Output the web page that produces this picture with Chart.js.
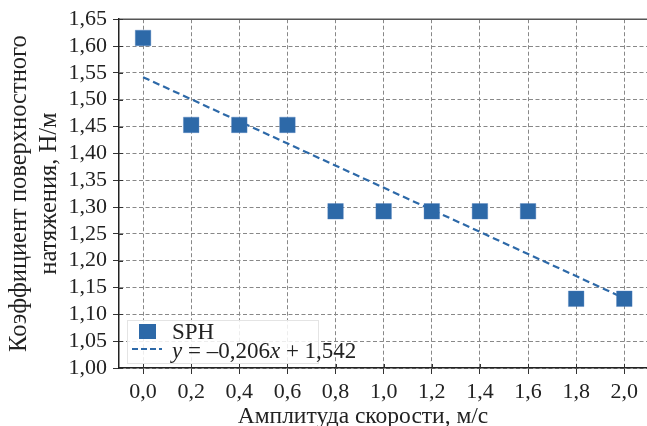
<!DOCTYPE html>
<html>
<head>
<meta charset="utf-8">
<script src="https://cdn.jsdelivr.net/npm/chart.js@4"></script>
<style>
  html, body { margin: 0; padding: 0; background: #fff; overflow: hidden; }
  #wrap { width: 659px; height: 426px; position: relative; }
  canvas { display: block; }
</style>
</head>
<body>
<div id="wrap"><canvas id="chartSph"></canvas></div>
<script>
const speedX = [0.0, 0.2, 0.4, 0.6, 0.8, 1.0, 1.2, 1.4, 1.6, 1.8, 2.0];
const tensionY = [1.615, 1.453, 1.453, 1.453, 1.292, 1.292, 1.292, 1.292, 1.292, 1.129, 1.129];
const trendX = [0.0, 2.0];
const trendY = [1.542, 1.130];
const xTicks = [0.0, 0.2, 0.4, 0.6, 0.8, 1.0, 1.2, 1.4, 1.6, 1.8, 2.0];
const yTicks = [1.00, 1.05, 1.10, 1.15, 1.20, 1.25, 1.30, 1.35, 1.40, 1.45, 1.50, 1.55, 1.60, 1.65];
const xTitle = 'Амплитуда скорости, м/с';
const yTitle = ['Коэффициент поверхностного', 'натяжения, Н/м'];

const blue = '#2d69a8';
const ink = '#222';
const serif = "'Liberation Serif', 'Times New Roman', serif";
const comma = (v, d) => v.toFixed(d).replace('.', ',');

// frame, inner tick marks, legend and axis titles
const extras = {
    id: 'extras',
    afterDraw(chart) {
        const c = chart.ctx;
        const a = chart.chartArea;
        const sx = chart.scales.x, sy = chart.scales.y;
        c.save();
        c.strokeStyle = '#555';
        c.lineWidth = 1.5;
        c.beginPath();
        c.moveTo(a.left, a.top);
        c.lineTo(a.right, a.top);
        c.stroke();

        c.strokeStyle = '#333';
        c.lineWidth = 1;
        c.beginPath();
        yTicks.forEach(v => {
            const p = Math.round(sy.getPixelForValue(v)) + 0.5;
            c.moveTo(a.left, p); c.lineTo(a.left + 4, p);
        });
        xTicks.forEach(v => {
            const p = Math.round(sx.getPixelForValue(v)) + 0.5;
            c.moveTo(p, a.bottom); c.lineTo(p, a.bottom - 4);
        });
        c.stroke();

        // legend
        const bx = a.left + 8, by = a.bottom - 48, bw = 191, bh = 43;
        c.fillStyle = 'rgba(255,255,255,0.85)';
        c.strokeStyle = '#e4e4e4';
        c.fillRect(bx, by, bw, bh);
        c.strokeRect(bx + 0.5, by + 0.5, bw, bh);

        c.fillStyle = blue;
        c.fillRect(bx + 12, by + 4, 17, 15);

        c.strokeStyle = blue;
        c.lineWidth = 2;
        c.setLineDash([6, 3]);
        c.beginPath();
        c.moveTo(bx + 5, by + 29);
        c.lineTo(bx + 35, by + 29);
        c.stroke();
        c.setLineDash([]);

        c.fillStyle = ink;
        c.textBaseline = 'alphabetic';
        c.font = '23px ' + serif;
        c.fillText('SPH', bx + 45, by + 19);

        let tx = bx + 45;
        const ty = by + 38;
        const parts = [['y', true], [' = –0,206', false], ['x', true], [' + 1,542', false]];
        parts.forEach(([t, it]) => {
            c.font = (it ? 'italic ' : '') + '23px ' + serif;
            c.fillText(t, tx, ty);
            tx += c.measureText(t).width;
        });

        // axis titles
        c.font = '23.5px ' + serif;
        c.textAlign = 'center';
        c.fillText(xTitle, 363, 423);
        c.font = '24.5px ' + serif;
        c.translate(0, (a.top + a.bottom) / 2);
        c.rotate(-Math.PI / 2);
        c.fillText(yTitle[0], 0, 25.5);
        c.fillText(yTitle[1], 0, 56);
        c.restore();
    }
};

const ctxSph = document.getElementById('chartSph').getContext('2d');
const chartSph = new Chart(ctxSph, {
    type: 'scatter',
    data: {
        datasets: [{
            label: 'SPH',
            data: speedX.map((x, i) => ({ x: x, y: tensionY[i] })),
            pointStyle: 'rect',
            pointRadius: 11,
            pointHoverRadius: 11,
            backgroundColor: blue,
            borderColor: 'rgba(80,130,190,0.6)',
            borderWidth: 0.6,
            order: 1
        }, {
            type: 'line',
            label: 'trend',
            data: trendX.map((x, i) => ({ x: x, y: trendY[i] })),
            borderColor: blue,
            borderWidth: 2.2,
            borderDash: [7, 4],
            pointRadius: 0,
            fill: false,
            order: 2
        }]
    },
    options: {
        responsive: true,
        maintainAspectRatio: false,
        animation: false,
        layout: { padding: { top: 19, right: 0, left: 0, bottom: 0 } },
        plugins: {
            legend: { display: false },
            tooltip: { enabled: false }
        },
        scales: {
            x: {
                type: 'linear',
                min: -0.1,
                max: 2.096,
                afterBuildTicks: s => { s.ticks = xTicks.map(v => ({ value: v })); },
                afterFit: s => { s.height = 58; },
                grid: { color: '#888', lineWidth: 1, tickLength: 6, tickColor: '#333' },
                border: { display: true, color: ink, width: 1.5, dash: [4, 2.5] },
                ticks: {
                    padding: 5,
                    autoSkip: false,
                    maxRotation: 0,
                    color: ink,
                    font: { family: serif, size: 22 },
                    callback: v => comma(v, 1)
                }
            },
            y: {
                min: 1.0,
                max: 1.65,
                afterBuildTicks: s => { s.ticks = yTicks.map(v => ({ value: v })); },
                afterFit: s => { s.width = 119; },
                grid: { color: '#888', lineWidth: 1, tickLength: 6, tickColor: '#333' },
                border: { display: true, color: ink, width: 1.5, dash: [4, 2.5] },
                ticks: {
                    padding: 6,
                    autoSkip: false,
                    color: ink,
                    font: { family: serif, size: 22 },
                    callback: v => comma(v, 2)
                }
            }
        }
    },
    plugins: [extras]
});
</script>
</body>
</html>
